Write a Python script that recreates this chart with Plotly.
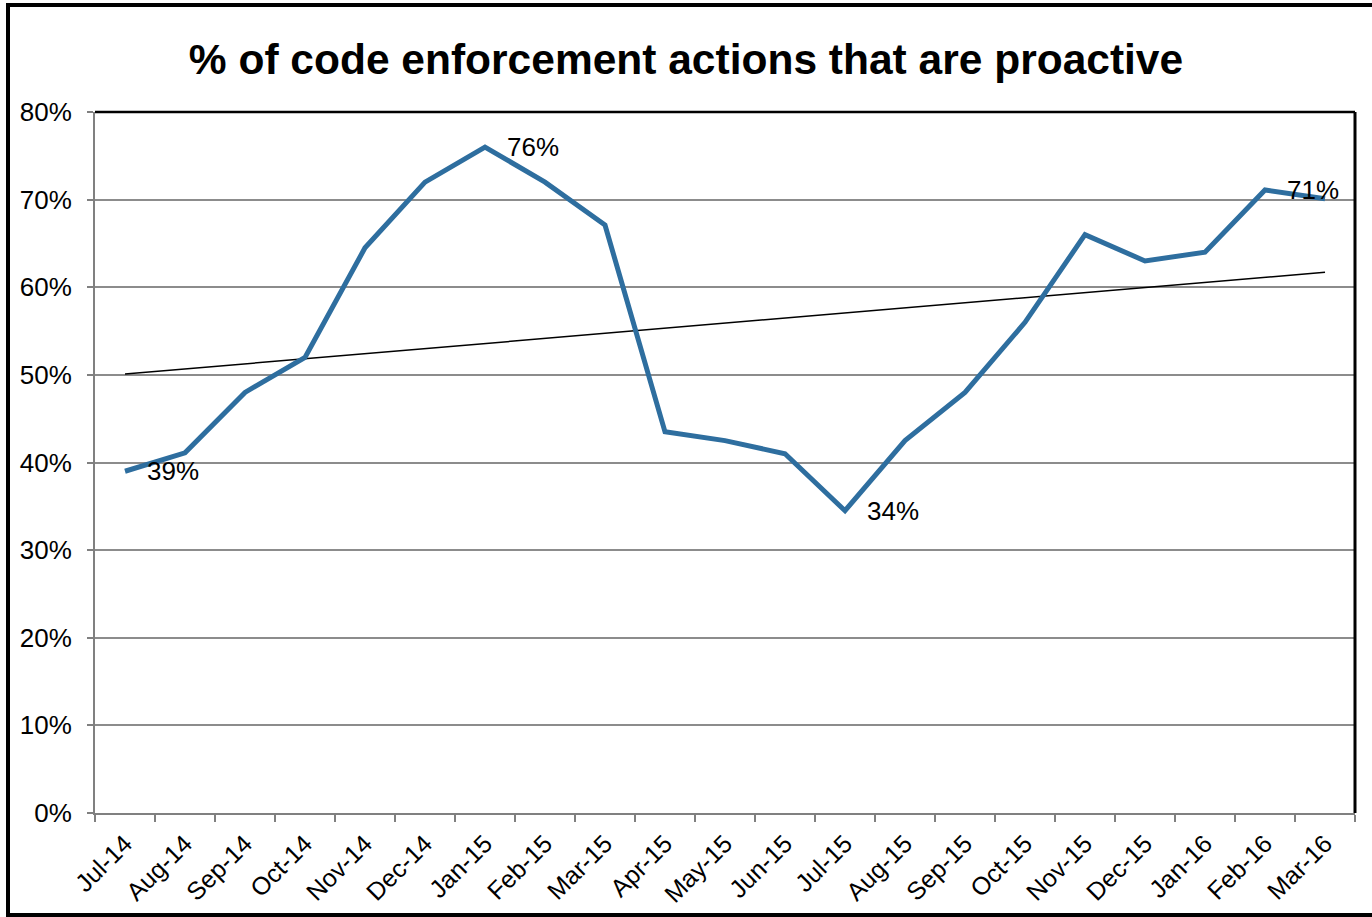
import numpy as np
import plotly.graph_objects as go

months = ["Jul-14", "Aug-14", "Sep-14", "Oct-14", "Nov-14", "Dec-14", "Jan-15",
          "Feb-15", "Mar-15", "Apr-15", "May-15", "Jun-15", "Jul-15", "Aug-15",
          "Sep-15", "Oct-15", "Nov-15", "Dec-15", "Jan-16", "Feb-16", "Mar-16"]
pct_proactive = [0.39, 0.411, 0.48, 0.52, 0.645, 0.72, 0.76, 0.72, 0.671, 0.435,
                 0.425, 0.41, 0.345, 0.425, 0.48, 0.56, 0.66, 0.63, 0.64, 0.711, 0.701]
labelled_months = ["Jul-14", "Jan-15", "Jul-15", "Feb-16"]

# Linear trend over the month index
idx = np.arange(len(months))
slope, intercept = np.polyfit(idx, pct_proactive, 1)
trend = intercept + slope * idx

fig = go.Figure()
fig.add_trace(go.Scatter(x=months, y=trend, mode="lines",
                         line=dict(color="black", width=1.5),
                         hoverinfo="skip", showlegend=False))
fig.add_trace(go.Scatter(x=months, y=pct_proactive, mode="lines",
                         line=dict(color="#2E6E9F", width=5),
                         showlegend=False))

for m in labelled_months:
    v = pct_proactive[months.index(m)]
    fig.add_annotation(x=m, y=v, text=f"{v:.0%}", showarrow=False,
                       xanchor="left", yanchor="middle", xshift=20,
                       font=dict(family="Arial, Liberation Sans", size=26, color="black"))

fig.update_layout(
    width=1372, height=917,
    margin=dict(l=95, r=17, t=112, b=104),
    paper_bgcolor="white", plot_bgcolor="white",
    font=dict(family="Arial, Liberation Sans", color="black"),
    title=dict(text="<b>% of code enforcement actions that are proactive</b>",
               x=0.5, xanchor="center", y=0.935, yanchor="middle",
               font=dict(size=42.5, color="black")),
)
fig.update_xaxes(
    type="category", categoryorder="array", categoryarray=months,
    tickson="boundaries", ticks="outside", ticklen=7, tickwidth=2, tickcolor="#808080",
    showline=True, linecolor="#808080", linewidth=2, showgrid=False,
    tickangle=-45, tickfont=dict(size=25), range=[-0.5, len(months) - 0.5],
    ticklabelstandoff=4, automargin=False,
)
fig.update_yaxes(
    range=[0, 0.8], dtick=0.1, tickformat=".0%",
    ticks="outside", ticklen=6, tickwidth=2, tickcolor="#808080",
    showline=True, linecolor="#808080", linewidth=2,
    showgrid=True, gridcolor="#8c8c8c", gridwidth=1.5,
    tickfont=dict(size=26), zeroline=False, ticklabelstandoff=10, automargin=False,
)

# plot-area top and right edges
fig.add_shape(type="line", xref="paper", yref="paper", x0=0, x1=1, y0=1, y1=1,
              line=dict(color="black", width=2.5))
fig.add_shape(type="line", xref="paper", yref="paper", x0=1, x1=1, y0=0, y1=1,
              line=dict(color="black", width=3))
# outer chart frame
fig.add_shape(type="rect", xref="paper", yref="paper",
              x0=-87 / 1260, x1=1.03, y0=-102 / 701, y1=1 + 107 / 701,
              line=dict(color="black", width=4), layer="above")

fig.write_html("out.html")
